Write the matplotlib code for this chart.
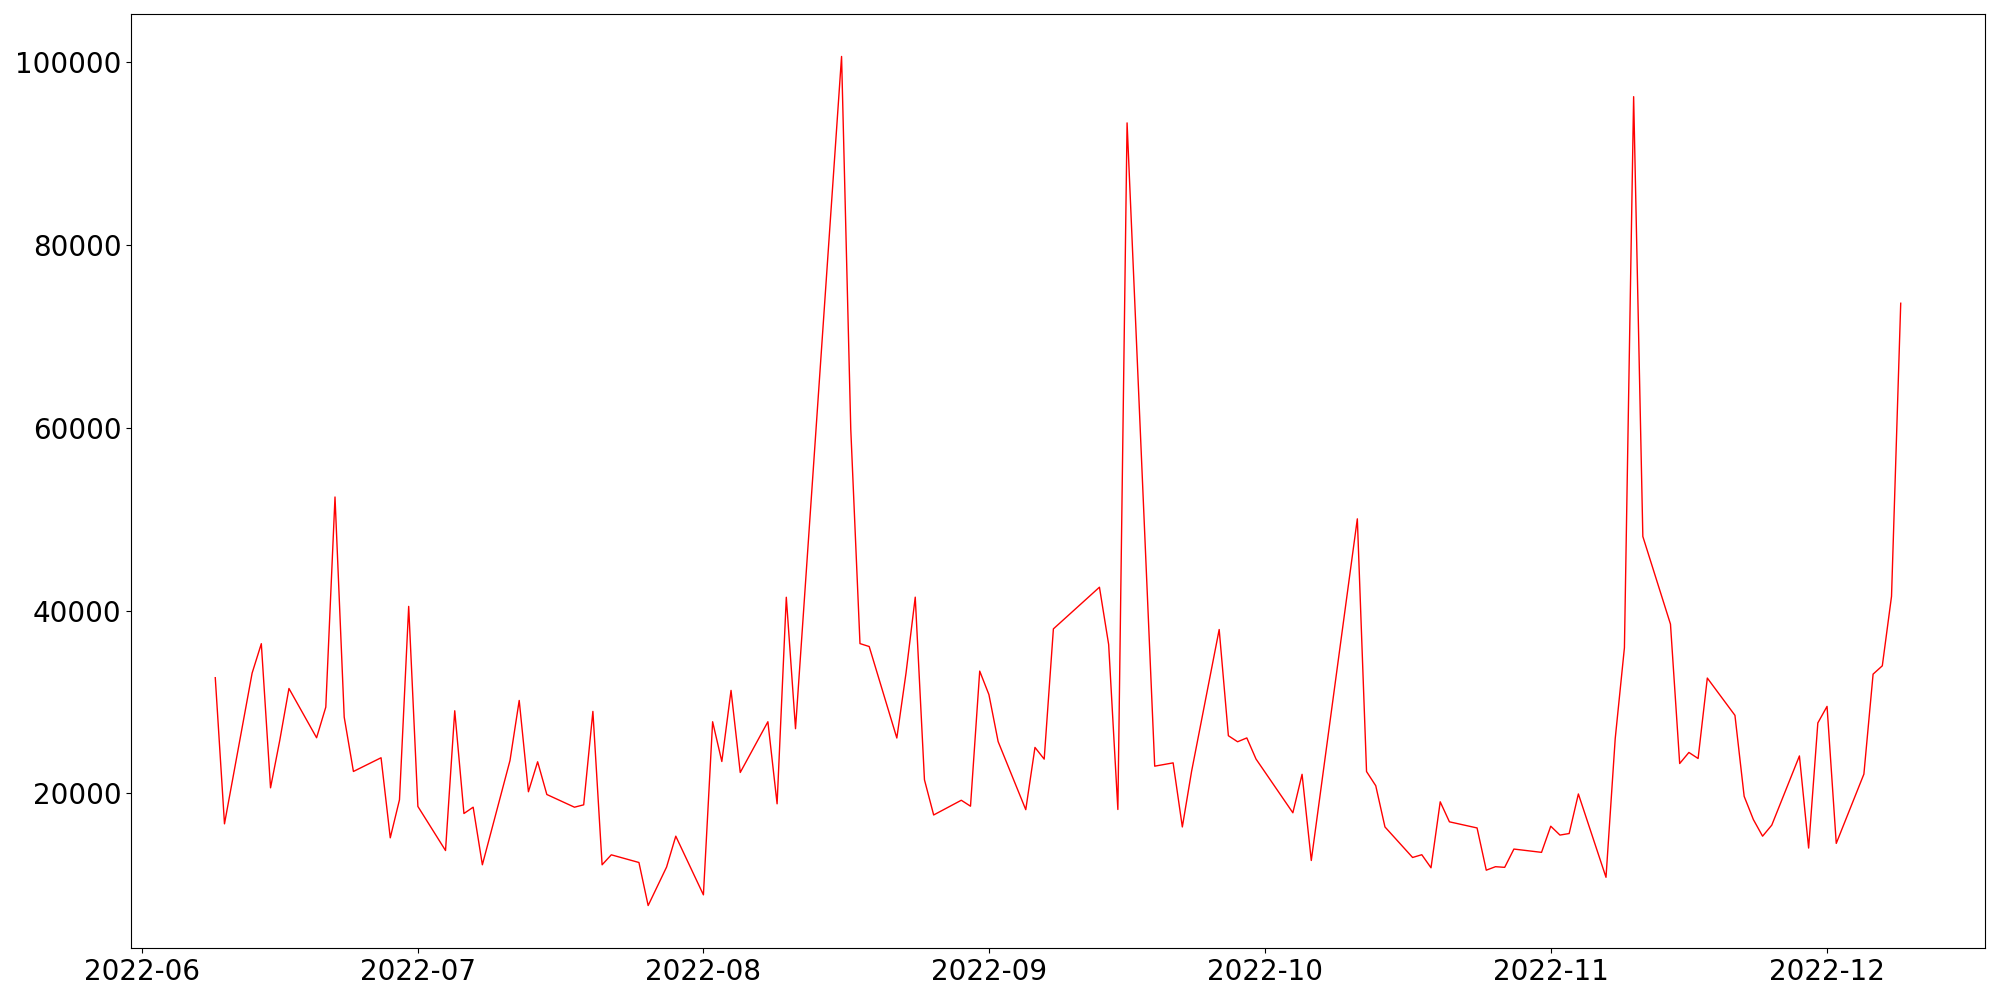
import matplotlib
matplotlib.use("Agg")
import matplotlib.pyplot as plt
import pandas as pd

dates = [
    "2022-06-09", "2022-06-10", "2022-06-13", "2022-06-14", "2022-06-15", "2022-06-16", "2022-06-17",
    "2022-06-20", "2022-06-21", "2022-06-22", "2022-06-23", "2022-06-24",
    "2022-06-27", "2022-06-28", "2022-06-29", "2022-06-30", "2022-07-01",
    "2022-07-04", "2022-07-05", "2022-07-06", "2022-07-07", "2022-07-08",
    "2022-07-11", "2022-07-12", "2022-07-13", "2022-07-14", "2022-07-15",
    "2022-07-18", "2022-07-19", "2022-07-20", "2022-07-21", "2022-07-22",
    "2022-07-25", "2022-07-26", "2022-07-28", "2022-07-29",
    "2022-08-01", "2022-08-02", "2022-08-03", "2022-08-04", "2022-08-05",
    "2022-08-08", "2022-08-09", "2022-08-10", "2022-08-11",
    "2022-08-16", "2022-08-17", "2022-08-18", "2022-08-19",
    "2022-08-22", "2022-08-23", "2022-08-24", "2022-08-25", "2022-08-26",
    "2022-08-29", "2022-08-30", "2022-08-31", "2022-09-01", "2022-09-02",
    "2022-09-05", "2022-09-06", "2022-09-07", "2022-09-08",
    "2022-09-13", "2022-09-14", "2022-09-15", "2022-09-16",
    "2022-09-19", "2022-09-21", "2022-09-22", "2022-09-23",
    "2022-09-26", "2022-09-27", "2022-09-28", "2022-09-29", "2022-09-30",
    "2022-10-04", "2022-10-05", "2022-10-06",
    "2022-10-11", "2022-10-12", "2022-10-13", "2022-10-14",
    "2022-10-17", "2022-10-18", "2022-10-19", "2022-10-20", "2022-10-21",
    "2022-10-24", "2022-10-25", "2022-10-26", "2022-10-27", "2022-10-28",
    "2022-10-31", "2022-11-01", "2022-11-02", "2022-11-03", "2022-11-04",
    "2022-11-07", "2022-11-08", "2022-11-09", "2022-11-10", "2022-11-11",
    "2022-11-14", "2022-11-15", "2022-11-16", "2022-11-17", "2022-11-18",
    "2022-11-21", "2022-11-22", "2022-11-23", "2022-11-24", "2022-11-25",
    "2022-11-28", "2022-11-29", "2022-11-30", "2022-12-01", "2022-12-02",
    "2022-12-05", "2022-12-06", "2022-12-07", "2022-12-08", "2022-12-09",
]

values = [
    32670, 16680, 33170, 36390, 20620, 25800, 31490,
    26100, 29450, 52440, 28350, 22410,
    23910, 15150, 19310, 40470, 18580,
    13760, 29050, 17810, 18500, 12200,
    23610, 30180, 20190, 23470, 19890,
    18500, 18760, 28980, 12200, 13290,
    12450, 7740, 11950, 15330,
    8910, 27850, 23500, 31280, 22300,
    27850, 18870, 41470, 27090,
    100640, 59850, 36400, 36080,
    26070, 33190, 41480, 21500, 17650,
    19260, 18610, 33390, 30820, 25680,
    18230, 25040, 23760, 38010,
    42570, 36300, 18250, 93370,
    22990, 23350, 16340, 22400,
    37940, 26320, 25660, 26080, 23770,
    17890, 22100, 12670,
    50050, 22400, 20850, 16340,
    13000, 13300, 11870, 19090, 16900,
    16230, 11610, 11990, 11920, 13920,
    13560, 16420, 15450, 15620, 19950,
    10830, 26000, 35950, 96240, 48120,
    38530, 23280, 24490, 23830, 32630,
    28550, 19690, 17150, 15330, 16540,
    24110, 14030, 27720, 29530, 14540,
    22120, 33060, 33970, 41570, 73640,
]

x = pd.to_datetime(dates)

fig = plt.figure(figsize=(20, 10), dpi=100)
ax = fig.add_axes([0.0655, 0.052, 0.927, 0.934])
ax.plot(x, values, color="red", linewidth=1.0)
ax.tick_params(axis="both", labelsize=20)
fig.savefig("out.png", dpi=100)
